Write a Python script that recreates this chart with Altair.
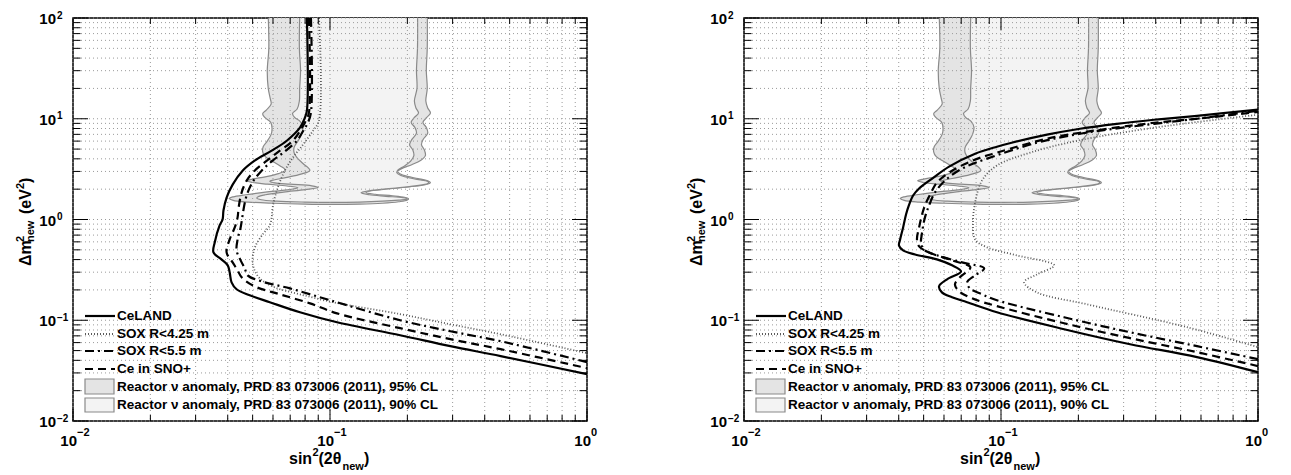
import altair as alt
import pandas as pd

FONT = "Liberation Sans"
W, H = 514, 403

# ---------------- axes values ----------------
x_major = [0.01, 0.1, 1.0]
x_minor = [0.02, 0.03, 0.04, 0.05, 0.06, 0.07, 0.08, 0.09,
           0.2, 0.3, 0.4, 0.5, 0.6, 0.7, 0.8, 0.9]
y_major = [0.01, 0.1, 1.0, 10.0, 100.0]
y_minor = [0.02, 0.03, 0.04, 0.05, 0.06, 0.07, 0.08, 0.09,
           0.2, 0.3, 0.4, 0.5, 0.6, 0.7, 0.8, 0.9,
           2, 3, 4, 5, 6, 7, 8, 9,
           20, 30, 40, 50, 60, 70, 80, 90]
x_exp = ["\u22122", "\u22121", "0"]
y_exp = ["\u22122", "\u22121", "0", "1", "2"]

legend_labels = ["CeLAND", "SOX R<4.25 m", "SOX R<5.5 m", "Ce in SNO+",
                 "Reactor \u03bd anomaly, PRD 83 073006 (2011), 95% CL",
                 "Reactor \u03bd anomaly, PRD 83 073006 (2011), 90% CL"]

# ---------------- reactor anomaly contours ----------------
ra95_x = [0.0573, 0.0578, 0.0570, 0.0575, 0.0585, 0.0590, 0.0565, 0.0547, 0.0560, 0.0588,
          0.0595, 0.0590, 0.0570, 0.0550, 0.0547, 0.0560, 0.0595, 0.0640, 0.0670, 0.0630,
          0.0560, 0.0500, 0.0474, 0.0500, 0.0570, 0.0680, 0.0750, 0.0680, 0.0560, 0.0470,
          0.0420, 0.0406, 0.0420, 0.0480, 0.0600, 0.0800, 0.1000, 0.1300, 0.1600, 0.1850,
          0.2000, 0.2020, 0.1950, 0.1750, 0.1500, 0.1380, 0.1450, 0.1700, 0.2050, 0.2350,
          0.2460, 0.2400, 0.2200, 0.2000, 0.1870, 0.1830, 0.1900, 0.2080, 0.2250, 0.2350,
          0.2330, 0.2270, 0.2300, 0.2400, 0.2370, 0.2300, 0.2380, 0.2460, 0.2400, 0.2360,
          0.2390, 0.2370, 0.2390, 0.2390]
ra95_y = [130, 50, 30, 20, 16, 14, 12.2, 11.2, 10.2, 9.2,
          8.0, 7.0, 6.0, 5.3, 4.7, 4.2, 3.8, 3.4, 3.1, 2.85,
          2.65, 2.52, 2.42, 2.33, 2.24, 2.15, 2.07, 1.97, 1.87, 1.76,
          1.68, 1.62, 1.55, 1.49, 1.45, 1.42, 1.41, 1.42, 1.45, 1.50,
          1.56, 1.61, 1.66, 1.72, 1.78, 1.85, 1.93, 2.02, 2.12, 2.22,
          2.32, 2.42, 2.55, 2.68, 2.85, 3.0, 3.2, 3.5, 3.85, 4.3,
          4.9, 5.5, 6.2, 7.2, 8.2, 9.2, 10.3, 11.4, 12.8, 15,
          20, 30, 50, 130]
ra90_x = [0.0764, 0.0760, 0.0768, 0.0762, 0.0760, 0.0745, 0.0715, 0.0728, 0.0765, 0.0785,
          0.0775, 0.0750, 0.0725, 0.0725, 0.0745, 0.0785, 0.0835, 0.0770, 0.0680, 0.0610,
          0.0583, 0.0610, 0.0700, 0.0850, 0.0900, 0.0800, 0.0660, 0.0560, 0.0525, 0.0519,
          0.0540, 0.0620, 0.0800, 0.1000, 0.1300, 0.1600, 0.1850, 0.2020, 0.1920, 0.1650,
          0.1420, 0.1320, 0.1420, 0.1750, 0.2150, 0.2400, 0.2420, 0.2250, 0.2050, 0.1900,
          0.1820, 0.1840, 0.1950, 0.2060, 0.2120, 0.2100, 0.2040, 0.2080, 0.2170, 0.2140,
          0.2070, 0.2130, 0.2210, 0.2160, 0.2130, 0.2180, 0.2170, 0.2190, 0.2190]
ra90_y = [130, 50, 30, 20, 15, 12.5, 11.3, 10.3, 9.4, 8.2,
          7.0, 6.0, 5.2, 4.6, 4.1, 3.6, 3.08, 2.82, 2.62, 2.48,
          2.40, 2.31, 2.24, 2.16, 2.08, 1.98, 1.87, 1.76, 1.68, 1.63,
          1.57, 1.52, 1.49, 1.48, 1.49, 1.52, 1.56, 1.60, 1.65, 1.70,
          1.76, 1.84, 1.93, 2.04, 2.16, 2.28, 2.36, 2.47, 2.58, 2.72,
          2.90, 3.10, 3.40, 3.80, 4.3, 4.9, 5.5, 6.2, 7.2, 8.2,
          9.2, 10.3, 11.4, 12.8, 15, 20, 30, 50, 130]

# ---------------- left panel curves ----------------
L_celand_x = [0.0813, 0.0813, 0.0798, 0.0764, 0.0679, 0.0593, 0.0509, 0.0457, 0.0418, 0.0396,
              0.0385, 0.0382, 0.0372, 0.0356, 0.0352, 0.0378, 0.0400, 0.0407, 0.0414, 0.0433,
              0.0487, 0.0583, 0.0764, 0.1065, 0.1875, 0.294, 0.4615, 1.0]
L_celand_y = [100, 12.0, 10.2, 8.15, 6.05, 4.82, 3.84, 3.05, 2.22, 1.65,
              1.23, 1.0, 0.873, 0.592, 0.471, 0.402, 0.351, 0.299, 0.238, 0.203,
              0.177, 0.151, 0.120, 0.0955, 0.0710, 0.0553, 0.0441, 0.0292]
L_sox425_x = [0.0906, 0.0906, 0.0859, 0.0785, 0.0717, 0.0667, 0.0621, 0.0598, 0.0593, 0.0583,
              0.0547, 0.0514, 0.0500, 0.0504, 0.0533, 0.0610, 0.0764, 0.1028, 0.1875, 0.294,
              0.4615, 1.0]
L_sox425_y = [100, 9.55, 7.60, 5.53, 4.11, 3.05, 1.94, 1.31, 1.05, 0.873,
              0.710, 0.553, 0.421, 0.335, 0.261, 0.212, 0.181, 0.151, 0.115, 0.0912,
              0.0726, 0.0471]
L_sox55_x = [0.0843, 0.0843, 0.0820, 0.0791, 0.0743, 0.0673, 0.0598, 0.0542, 0.0504, 0.0478,
             0.0466, 0.0457, 0.0449, 0.0437, 0.0433, 0.0449, 0.0466, 0.0478, 0.0542, 0.0699,
             0.1, 0.1875, 0.294, 0.4615, 1.0]
L_sox55_y = [100, 11.5, 9.12, 7.78, 6.05, 4.82, 3.84, 3.05, 2.43, 1.85,
             1.47, 1.10, 0.834, 0.634, 0.493, 0.393, 0.327, 0.279, 0.243, 0.207,
             0.158, 0.1, 0.0778, 0.0619, 0.0384]
L_sno_x = [0.0828, 0.0828, 0.0805, 0.0778, 0.0717, 0.0638, 0.0568, 0.0509, 0.0474, 0.0453,
           0.0441, 0.0437, 0.0426, 0.0407, 0.0396, 0.0418, 0.0437, 0.0453, 0.0509, 0.0638,
           0.0836, 0.1065, 0.1875, 0.294, 0.4615, 1.0]
L_sno_y = [100, 11.5, 9.55, 8.15, 6.05, 4.82, 3.84, 3.05, 2.43, 1.85,
           1.31, 1.05, 0.834, 0.634, 0.471, 0.375, 0.313, 0.267, 0.217, 0.181,
           0.147, 0.117, 0.0834, 0.0649, 0.0516, 0.0335]

# ---------------- right panel curves ----------------
R_celand_x = [1.0, 0.579, 0.318, 0.176, 0.0964, 0.0738, 0.0645, 0.0589, 0.0574, 0.0617,
              0.0699, 0.0645, 0.0563, 0.0463, 0.0416, 0.0401, 0.0405, 0.0416, 0.0427, 0.0438,
              0.0455, 0.0480, 0.0540, 0.0628, 0.0793, 0.0964, 0.110, 0.151, 0.203, 0.282,
              0.394, 0.579, 1.0]
R_celand_y = [0.0305, 0.0431, 0.0578, 0.0815, 0.120, 0.151, 0.169, 0.189, 0.217, 0.255,
              0.305, 0.351, 0.402, 0.450, 0.493, 0.553, 0.634, 0.834, 1.12, 1.38,
              1.73, 2.03, 2.55, 3.35, 4.50, 5.28, 5.78, 6.95, 7.96, 8.91,
              9.77, 10.7, 12.3]
R_sox425_x = [1.0, 0.394, 0.198, 0.130, 0.0964, 0.0843, 0.0793, 0.0778, 0.0793, 0.0883,
              0.115, 0.161, 0.138, 0.123, 0.138, 0.216, 0.530, 1.0]
R_sox425_y = [10.96, 8.15, 6.05, 4.61, 3.43, 2.43, 1.47, 0.933, 0.634, 0.529,
              0.441, 0.351, 0.285, 0.238, 0.189, 0.144, 0.0853, 0.0541]
R_sox55_x = [1.0, 0.579, 0.318, 0.176, 0.0964, 0.0843, 0.0757, 0.0738, 0.0793, 0.0860,
             0.0705, 0.0563, 0.0506, 0.0489, 0.0493, 0.0506, 0.0525, 0.0553, 0.0605, 0.0705,
             0.0883, 0.138, 0.203, 0.394, 0.579, 1.0]
R_sox55_y = [0.0411, 0.0553, 0.0760, 0.107, 0.158, 0.181, 0.207, 0.238, 0.279, 0.327,
             0.375, 0.441, 0.493, 0.565, 0.743, 1.05, 1.38, 1.85, 2.43, 3.20,
             4.02, 5.78, 7.10, 8.91, 10.0, 12.0]
R_sno_x = [1.0, 0.579, 0.318, 0.176, 0.0964, 0.0771, 0.0687, 0.0662, 0.0692, 0.0760,
           0.0645, 0.0525, 0.0480, 0.0471, 0.0480, 0.0493, 0.0506, 0.0530, 0.0563, 0.0645,
           0.0793, 0.0964, 0.151, 0.203, 0.394, 0.579, 1.0]
R_sno_y = [0.0351, 0.0482, 0.0664, 0.0933, 0.138, 0.165, 0.194, 0.227, 0.267, 0.335,
           0.393, 0.471, 0.541, 0.634, 0.834, 1.12, 1.38, 1.77, 2.32, 3.05,
           3.93, 4.61, 6.34, 7.26, 9.12, 10.0, 11.7]

# ---------------- styles ----------------
FILL95 = "#e4e4e4"
FILL90 = "#f3f3f3"
EDGE = "#8a8a8a"
GRID = "#9a9a9a"
ST = {
    "CeLAND": dict(color="black", strokeWidth=2.2),
    "SOX R<4.25 m": dict(color="#5a5a5a", strokeWidth=1.8, strokeDash=[1, 2]),
    "SOX R<5.5 m": dict(color="black", strokeWidth=2.2, strokeDash=[9, 4, 2, 4]),
    "Ce in SNO+": dict(color="black", strokeWidth=2.2, strokeDash=[8, 5]),
}

XS = alt.Scale(type="log", domain=[0.01, 1.0], nice=False)
YS = alt.Scale(type="log", domain=[0.01, 100.0], nice=False)


def X():
    return alt.X("x:Q", scale=XS, axis=None)


def Y():
    return alt.Y("y:Q", scale=YS, axis=None)


def path(xs, ys):
    return pd.DataFrame({"x": xs, "y": ys, "i": list(range(len(xs)))})


def region(xs, ys, fill):
    return alt.Chart(path(xs, ys)).mark_line(
        fill=fill, stroke=EDGE, strokeWidth=1.2, clip=True, interpolate="catmull-rom"
    ).encode(x=X(), y=Y(), order="i:Q")


def curve(xs, ys, name):
    return alt.Chart(path(xs, ys)).mark_line(
        clip=True, interpolate="catmull-rom", **ST[name]
    ).encode(x=X(), y=Y(), order="i:Q")


def text(s, x, y, size=13.5, align="left", baseline="middle", angle=None):
    mk = dict(font=FONT, fontWeight="bold", fontSize=size, align=align,
              baseline=baseline, color="black")
    if angle is not None:
        mk["angle"] = angle
    return alt.Chart(pd.DataFrame({"t": [s]})).mark_text(**mk).encode(
        x=alt.value(x), y=alt.value(y), text="t:N")


def panel(curves):
    layers = [region(ra95_x, ra95_y, FILL95), region(ra90_x, ra90_y, FILL90)]
    # grid
    layers.append(alt.Chart(pd.DataFrame({"x": x_major + x_minor})).mark_rule(
        color=GRID, strokeWidth=1, strokeDash=[1, 3]).encode(
        x=X(), y=alt.value(0), y2=alt.value(H)))
    layers.append(alt.Chart(pd.DataFrame({"y": y_major + y_minor})).mark_rule(
        color=GRID, strokeWidth=1, strokeDash=[1, 3]).encode(
        y=Y(), x=alt.value(0), x2=alt.value(W)))
    # curves
    for name, (xs, ys) in curves.items():
        layers.append(curve(xs, ys, name))
    # ticks
    for vals, ln in ((x_minor, 6), (x_major, 12)):
        d = pd.DataFrame({"x": vals})
        layers.append(alt.Chart(d).mark_rule(color="black", strokeWidth=1).encode(
            x=X(), y=alt.value(H), y2=alt.value(H - ln)))
        layers.append(alt.Chart(d).mark_rule(color="black", strokeWidth=1).encode(
            x=X(), y=alt.value(0), y2=alt.value(ln)))
    for vals, ln in ((y_minor, 7.5), (y_major, 15)):
        d = pd.DataFrame({"y": vals})
        layers.append(alt.Chart(d).mark_rule(color="black", strokeWidth=1).encode(
            y=Y(), x=alt.value(0), x2=alt.value(ln)))
        layers.append(alt.Chart(d).mark_rule(color="black", strokeWidth=1).encode(
            y=Y(), x=alt.value(W), x2=alt.value(W - ln)))
    # tick labels
    xl = pd.DataFrame({"x": x_major, "e": x_exp})
    layers.append(alt.Chart(xl).mark_text(font=FONT, fontWeight="bold", fontSize=15,
                                          align="right", baseline="middle", dx=4).encode(
        x=X(), y=alt.value(H + 20), text=alt.value("10")))
    layers.append(alt.Chart(xl).mark_text(font=FONT, fontWeight="bold", fontSize=11,
                                          align="left", baseline="middle", dx=4).encode(
        x=X(), y=alt.value(H + 12), text="e:N"))
    yl = pd.DataFrame({"y": y_major, "e": y_exp})
    layers.append(alt.Chart(yl).mark_text(font=FONT, fontWeight="bold", fontSize=15,
                                          align="right", baseline="middle", dy=1).encode(
        y=Y(), x=alt.value(-17), text=alt.value("10")))
    layers.append(alt.Chart(yl).mark_text(font=FONT, fontWeight="bold", fontSize=10,
                                          align="left", baseline="middle", dy=-2.5).encode(
        y=Y(), x=alt.value(-16), text="e:N"))
    # x title: sin^2(2theta_new)
    layers += [
        text("sin", 216, H + 43, 16, baseline="alphabetic"),
        text("2", 239.5, H + 35, 11, baseline="alphabetic"),
        text("(2\u03b8", 245.5, H + 43, 16, baseline="alphabetic"),
        text("new", 269.5, H + 49, 11, baseline="alphabetic"),
        text(")", 291, H + 43, 16, baseline="alphabetic"),
    ]
    # y title: Delta m^2_new (eV^2)
    layers += [
        text("\u0394m", -42, 248, 16, baseline="alphabetic", angle=270),
        text("2", -49, 224, 11, baseline="alphabetic", angle=270),
        text("new", -39, 224, 11, baseline="alphabetic", angle=270),
        text("(eV", -42, 196, 16, baseline="alphabetic", angle=270),
        text("2", -49, 171, 11, baseline="alphabetic", angle=270),
        text(")", -42, 165, 16, baseline="alphabetic", angle=270),
    ]
    # legend
    rows = [298, 316, 333, 351]
    for lab, yy in zip(legend_labels[:4], rows):
        layers.append(alt.Chart(pd.DataFrame({"t": [lab]})).mark_rule(**ST[lab]).encode(
            x=alt.value(12), x2=alt.value(42), y=alt.value(yy)))
        layers.append(text(lab, 44, yy))
    for lab, fill, y1, y2 in ((legend_labels[4], FILL95, 361, 376),
                              (legend_labels[5], FILL90, 380, 394)):
        layers.append(alt.Chart(pd.DataFrame({"t": [lab]})).mark_rect(
            fill=fill, stroke=EDGE, strokeWidth=1.2).encode(
            x=alt.value(12), x2=alt.value(41), y=alt.value(y1), y2=alt.value(y2)))
        layers.append(text(lab, 44, (y1 + y2) / 2))
    return alt.layer(*layers).properties(width=W, height=H)


left = panel({
    "SOX R<4.25 m": (L_sox425_x, L_sox425_y),
    "SOX R<5.5 m": (L_sox55_x, L_sox55_y),
    "Ce in SNO+": (L_sno_x, L_sno_y),
    "CeLAND": (L_celand_x, L_celand_y),
})
right = panel({
    "SOX R<4.25 m": (R_sox425_x, R_sox425_y),
    "SOX R<5.5 m": (R_sox55_x, R_sox55_y),
    "Ce in SNO+": (R_sno_x, R_sno_y),
    "CeLAND": (R_celand_x, R_celand_y),
})

chart = alt.hconcat(left, right, spacing=87).properties(
    padding={"left": 6, "top": 1, "right": 0, "bottom": 0}
).configure_view(stroke="black", strokeWidth=1.5)

chart.save("out.html", embed_options={"renderer": "svg", "actions": False})
